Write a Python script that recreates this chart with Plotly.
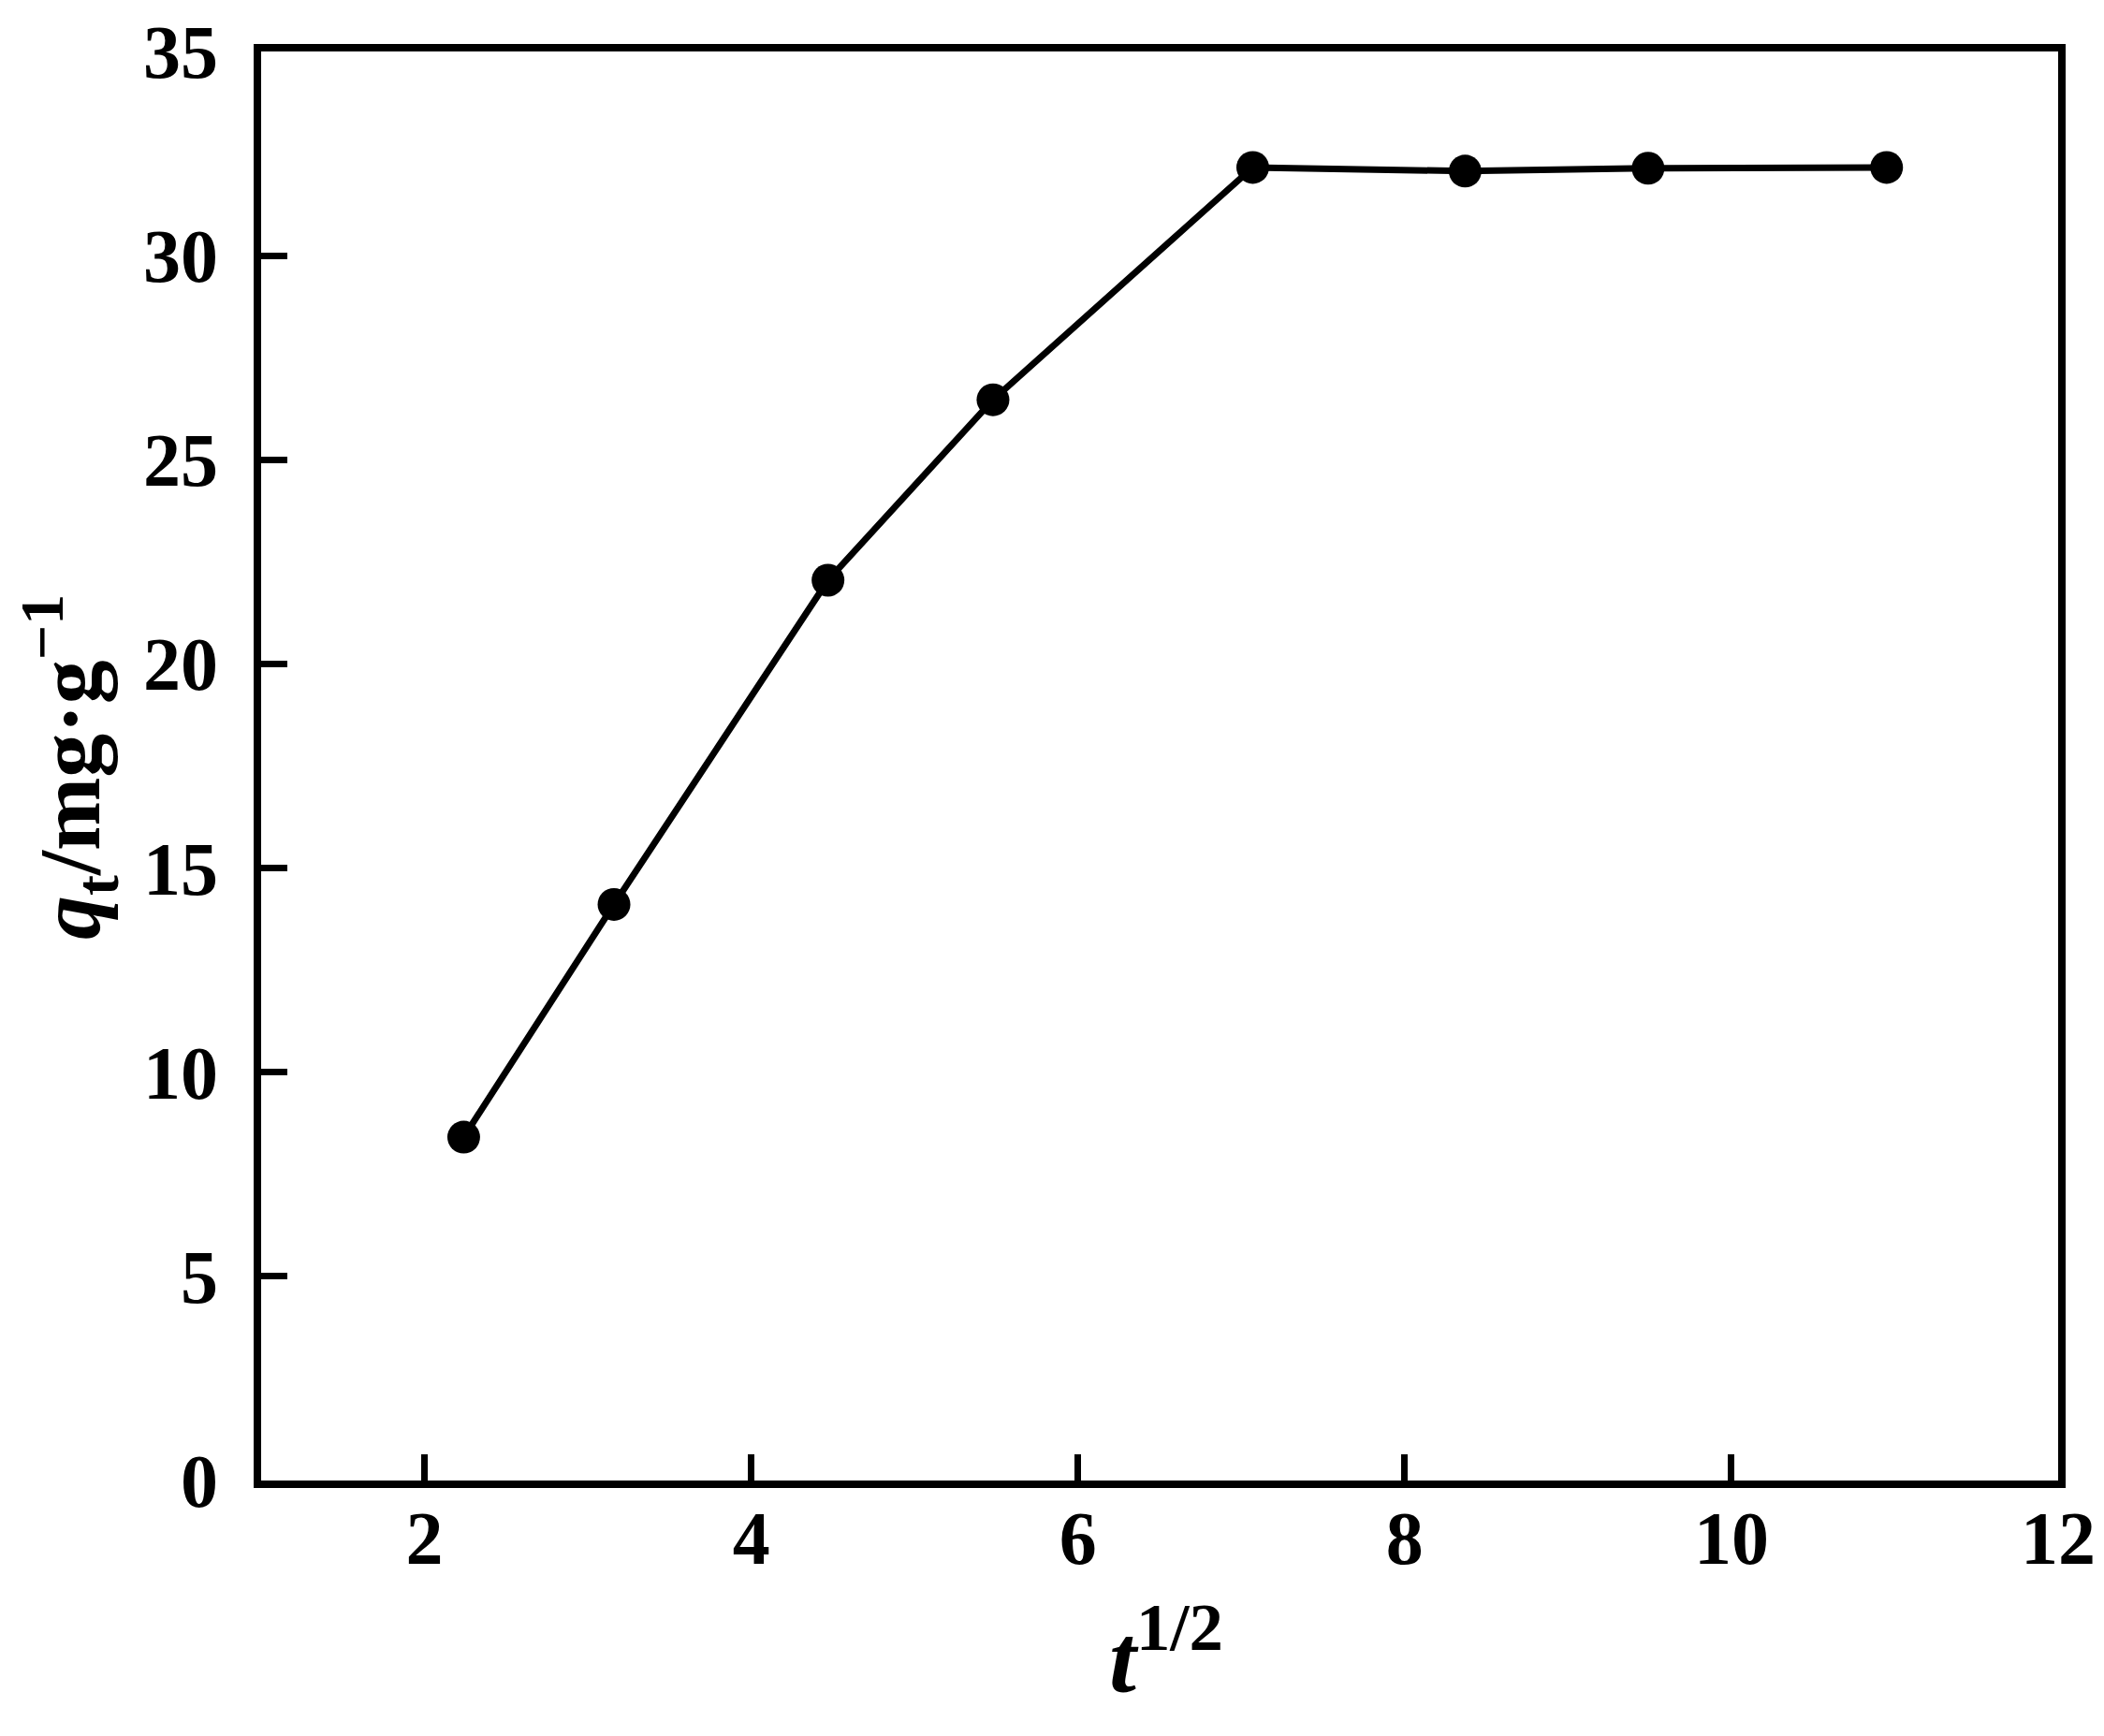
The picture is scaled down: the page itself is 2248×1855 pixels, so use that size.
import plotly.graph_objects as go

t_sqrt = [2.24, 3.16, 4.47, 5.48, 7.07, 8.37, 9.49, 10.95]
qt = [8.41, 14.11, 22.05, 26.47, 32.16, 32.07, 32.14, 32.16]

x_ticks = [2, 4, 6, 8, 10, 12]
y_ticks = [0, 5, 10, 15, 20, 25, 30, 35]

FONT = "Liberation Serif, Times New Roman, serif"

W, H = 2248, 1855
LW = 8
# axis line centres in the reference: left 267, right 2195, top 43, bottom 1578
L, R, T, B = 267 + LW // 2, W - (2195 - LW // 2), 43 + LW // 2, H - (1578 - LW // 2)

fig = go.Figure()
fig.add_trace(go.Scatter(
    x=t_sqrt, y=qt, mode="lines+markers",
    line=dict(color="black", width=7),
    marker=dict(color="black", size=35),
    showlegend=False, cliponaxis=False,
))

axis_common = dict(
    showgrid=False, zeroline=False, automargin=False,
    showline=True, linecolor="black", linewidth=LW, mirror=True,
    ticks="inside", ticklen=28, tickwidth=7, tickcolor="black",
    tickfont=dict(family=FONT, size=80, color="black", weight="bold"),
)

fig.update_layout(
    width=W, height=H,
    margin=dict(l=L, r=R, t=T, b=B, autoexpand=False),
    paper_bgcolor="white", plot_bgcolor="white",
    xaxis=dict(range=[1, 12], tickvals=x_ticks,
               ticktext=[str(v) for v in x_ticks],
               ticklabelstandoff=-15, **axis_common),
    yaxis=dict(range=[0, 35], tickvals=y_ticks,
               ticktext=[str(v) for v in y_ticks],
               ticklabelstandoff=22, **axis_common),
)

pw = W - L - R
ph = H - T - B
fig.add_annotation(
    text="<b><i>t</i><sup>1/2</sup></b>",
    xref="paper", yref="paper",
    x=(1238 - L) / pw, y=-(1755 - (H - B)) / ph,
    xanchor="center", yanchor="middle", showarrow=False,
    font=dict(family=FONT, size=104, color="black"),
)
fig.add_annotation(
    text="<b><i>q</i><sub>t</sub>/mg·g<sup>−1</sup></b>",
    xref="paper", yref="paper",
    x=-(L - 66) / pw, y=(H - B - 812) / ph,
    xanchor="center", yanchor="middle", textangle=-90, showarrow=False,
    font=dict(family=FONT, size=94, color="black"),
)

fig.write_html("out.html")
